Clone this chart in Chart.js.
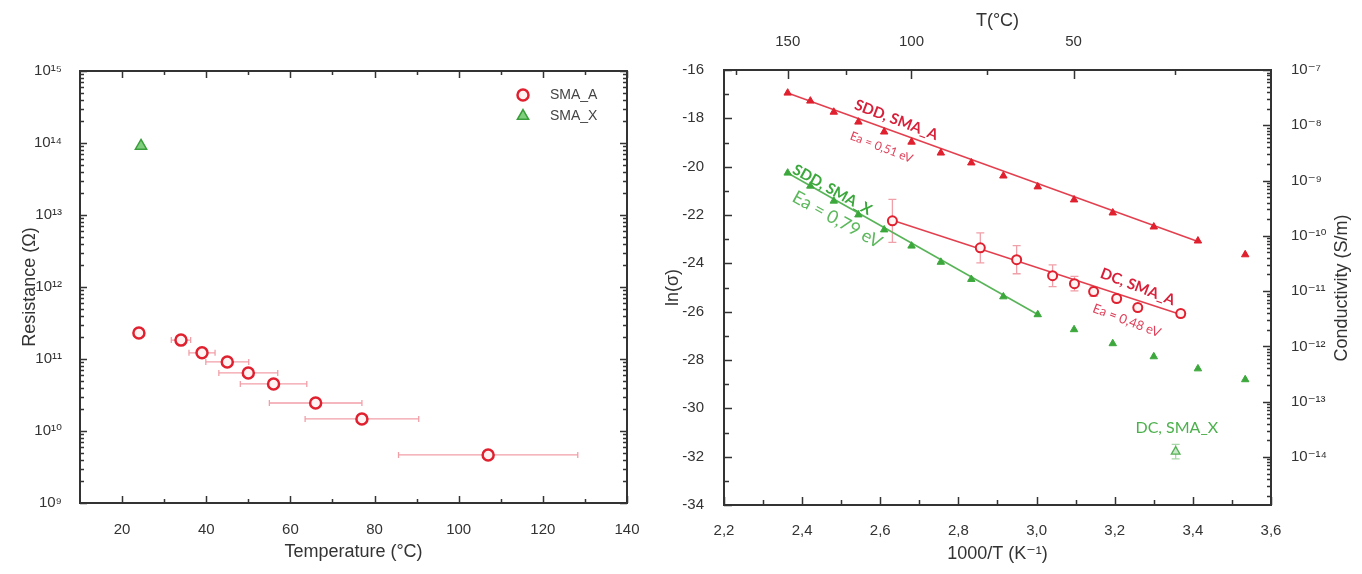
<!DOCTYPE html>
<html><head><meta charset="utf-8">
<script src="https://cdn.jsdelivr.net/npm/chart.js@4.4.0/dist/chart.umd.min.js"></script>
<style>
html,body{margin:0;padding:0;background:#fff;width:1362px;height:574px;overflow:hidden}
#c1{position:absolute;left:0;top:0}
#c2{position:absolute;left:640px;top:0}
</style></head><body>
<canvas id="c1" width="640" height="574"></canvas>
<canvas id="c2" width="722" height="574"></canvas>
<script>
// ---------- Left panel: Resistance vs Temperature ----------
const tempA = [24, 34, 39, 45, 50, 56, 66, 77, 107];
const resistanceA = [2.3e11, 1.83e11, 1.22e11, 9.1e10, 6.4e10, 4.5e10, 2.45e10, 1.47e10, 4.65e9];
const tempErrA = [0, 2.3, 3.1, 5.1, 7.0, 7.9, 11.0, 13.5, 21.3];
const tempX = [24.5];
const resistanceX = [9.1e13];
const tempTicks = [20, 40, 60, 80, 100, 120, 140];
const tempMinorTicks = [30, 50, 70, 90, 110, 130];
const resistanceTicks = [1e9, 1e10, 1e11, 1e12, 1e13, 1e14, 1e15];

// ---------- Right panel: Arrhenius plot ----------
const invT_SDD = [2.363, 2.421, 2.481, 2.544, 2.610, 2.680, 2.755, 2.833, 2.915, 3.003, 3.096, 3.195, 3.300, 3.413, 3.534];
const lnSigma_SDD_A = [-16.95, -17.28, -17.74, -18.15, -18.56, -18.98, -19.43, -19.84, -20.38, -20.83, -21.37, -21.91, -22.49, -23.07, -23.64];
const lnSigma_SDD_X = [-20.26, -20.80, -21.42, -21.99, -22.61, -23.28, -23.95, -24.66, -25.38, -26.12, -26.74, -27.32, -27.86, -28.36, -28.81];
const fitSDD_A_x = [2.363, 3.413];
const fitSDD_A_y = [-16.95, -23.10];
const fitSDD_X_x = [2.363, 3.003];
const fitSDD_X_y = [-20.26, -26.12];

const invT_DC_A = [2.631, 2.856, 2.949, 3.041, 3.097, 3.146, 3.205, 3.259, 3.369];
const lnSigma_DC_A = [-22.24, -23.36, -23.85, -24.51, -24.84, -25.17, -25.46, -25.83, -26.08];
const lnErr_DC_A = [0.89, 0.62, 0.58, 0.45, 0.30, 0.20, 0.15, 0.15, 0.15];
const fitDC_A_x = [2.631, 3.369];
const fitDC_A_y = [-22.22, -26.12];

const invT_DC_X = [3.356];
const lnSigma_DC_X = [-31.79];
const lnErr_DC_X = [0.30];

const invTTicks = [2.2, 2.4, 2.6, 2.8, 3.0, 3.2, 3.4, 3.6];
const invTMinorTicks = [2.3, 2.5, 2.7, 2.9, 3.1, 3.3, 3.5];
const lnTicks = [-34, -32, -30, -28, -26, -24, -22, -20, -18, -16];
const lnMinorTicks = [-33, -31, -29, -27, -25, -23, -21, -19, -17];
const topTempLabels = [150, 100, 50];
const topTempMinor = [175, 125, 75, 25];
const conductivityTicks = [1e-14, 1e-13, 1e-12, 1e-11, 1e-10, 1e-9, 1e-8, 1e-7];

// ---------- helpers ----------
const SUP = {'0':'⁰','1':'¹','2':'²','3':'³','4':'⁴','5':'⁵','6':'⁶','7':'⁷','8':'⁸','9':'⁹','-':'⁻'};
const sup = s => String(s).split('').map(c => SUP[c] || c).join('');
const powLabel = v => '10' + sup(Math.round(Math.log10(v)));
const toC = T => 1000 / (T + 273.15);
function logMinors(min, max) {
  const out = [];
  for (let e = Math.floor(Math.log10(min)); e <= Math.ceil(Math.log10(max)); e++) {
    for (let k = 2; k <= 9; k++) { const v = k * Math.pow(10, e); if (v >= min && v <= max) out.push(v); }
  }
  return out;
}
const pts = (xs, ys) => xs.map((x, i) => ({x, y: ys[i]}));
const noPad = s => { s.paddingLeft = 0; s.paddingRight = 0; s.paddingTop = 0; s.paddingBottom = 0; };

const FONT = "'Liberation Sans', Arial, 'DejaVu Sans', sans-serif";
const tickFont = {family: FONT, size: 15};
const titleFont = {family: FONT, size: 18};
const TXT = '#333';
const RED = '#e0202e', GREEN = '#3ca83c';

const decor = {
  id: 'decor',
  beforeDatasetsDraw(chart, args, opts) {
    const ctx = chart.ctx;
    (opts.errorBars || []).forEach(eb => {
      const xs = chart.scales[eb.xAxis || 'x'], ys = chart.scales[eb.yAxis || 'y'];
      ctx.save(); ctx.strokeStyle = eb.color; ctx.lineWidth = eb.width || 1.2;
      eb.x.forEach((xv, i) => {
        const e = eb.err[i]; if (!e) return;
        const px = xs.getPixelForValue(xv), py = ys.getPixelForValue(eb.y[i]);
        ctx.beginPath();
        if (eb.dir === 'x') {
          const a = xs.getPixelForValue(xv - e), b = xs.getPixelForValue(xv + e);
          ctx.moveTo(a, py); ctx.lineTo(b, py);
          ctx.moveTo(a, py - eb.cap); ctx.lineTo(a, py + eb.cap);
          ctx.moveTo(b, py - eb.cap); ctx.lineTo(b, py + eb.cap);
        } else {
          const a = ys.getPixelForValue(eb.y[i] - e), b = ys.getPixelForValue(eb.y[i] + e);
          ctx.moveTo(px, a); ctx.lineTo(px, b);
          ctx.moveTo(px - eb.cap, a); ctx.lineTo(px + eb.cap, a);
          ctx.moveTo(px - eb.cap, b); ctx.lineTo(px + eb.cap, b);
        }
        ctx.stroke();
      });
      ctx.restore();
    });
  },
  afterDraw(chart, args, opts) {
    const ctx = chart.ctx, ca = chart.chartArea;
    ctx.save();
    ctx.strokeStyle = '#333'; ctx.lineWidth = 2;
    ctx.strokeRect(ca.left, ca.top, ca.right - ca.left, ca.bottom - ca.top);
    ctx.lineWidth = 1.5;
    (opts.ticks || []).forEach(t => {
      const s = chart.scales[t.scale];
      const draw = (vals, len) => vals.forEach(v => {
        const p = Math.round(s.getPixelForValue(v)) + 0.5;
        ctx.beginPath();
        if (t.side === 'bottom') { ctx.moveTo(p, ca.bottom); ctx.lineTo(p, ca.bottom - len); }
        else if (t.side === 'top') { ctx.moveTo(p, ca.top); ctx.lineTo(p, ca.top + len); }
        else if (t.side === 'left') { ctx.moveTo(ca.left, p); ctx.lineTo(ca.left + len, p); }
        else { ctx.moveTo(ca.right, p); ctx.lineTo(ca.right - len, p); }
        ctx.stroke();
      });
      draw(t.major, t.majorLen); draw(t.minor || [], t.minorLen);
    });
    (opts.annotations || []).forEach(a => {
      const xs = chart.scales[a.xAxis || 'x'], ys = chart.scales[a.yAxis || 'y'];
      ctx.save();
      ctx.translate(xs.getPixelForValue(a.x), ys.getPixelForValue(a.y));
      ctx.rotate(a.angle * Math.PI / 180);
      ctx.font = a.font; ctx.fillStyle = a.color;
      ctx.textAlign = 'center'; ctx.textBaseline = 'middle';
      ctx.fillText(a.text, 0, 0);
      ctx.restore();
    });
    (opts.sideTitles || []).forEach(t => {
      ctx.save();
      ctx.translate(t.x, t.y); ctx.rotate(-Math.PI / 2);
      ctx.font = t.font; ctx.fillStyle = t.color; ctx.textAlign = 'center'; ctx.textBaseline = 'middle';
      ctx.fillText(t.text, 0, 0);
      ctx.restore();
    });
    if (opts.legend) {
      const L = opts.legend;
      chart.data.datasets.forEach((ds, i) => {
        const x = ca.right - L.right, y = ca.top + L.top + i * L.spacing;
        ctx.save();
        ctx.fillStyle = ds.pointBackgroundColor; ctx.strokeStyle = ds.pointBorderColor; ctx.lineWidth = ds.pointBorderWidth;
        Chart.helpers.drawPoint(ctx, {pointStyle: ds.pointStyle, radius: ds.pointRadius, borderWidth: ds.pointBorderWidth, rotation: 0}, x, y);
        ctx.fillStyle = '#444'; ctx.font = `14px ${FONT}`; ctx.textAlign = 'left'; ctx.textBaseline = 'middle';
        ctx.fillText(ds.label, x + L.textGap, y);
        ctx.restore();
      });
    }
    ctx.restore();
  }
};
Chart.register(decor);

// ---------- Left chart ----------
new Chart(document.getElementById('c1'), {
  type: 'scatter',
  data: {datasets: [
    {label: 'SMA_A', data: pts(tempA, resistanceA), pointStyle: 'circle', pointRadius: 5.5, pointBorderWidth: 2.5,
     pointBorderColor: RED, pointBackgroundColor: '#fff2f2', borderColor: RED, backgroundColor: '#fff2f2'},
    {label: 'SMA_X', data: pts(tempX, resistanceX), pointStyle: 'triangle', pointRadius: 6.5, pointBorderWidth: 1.5,
     pointBorderColor: '#3a9e3a', pointBackgroundColor: '#7fcf7f', borderColor: '#3a9e3a', backgroundColor: '#7fcf7f'}
  ]},
  options: {
    responsive: false, animation: false, events: [],
    layout: {padding: {top: 71, right: 13, left: 0, bottom: 0}},
    scales: {
      x: {type: 'linear', min: 10, max: 140,
          afterBuildTicks: s => { s.ticks = tempTicks.map(v => ({value: v})); },
          afterFit: s => { s.height = 71; noPad(s); },
          grid: {display: false}, border: {display: false},
          ticks: {padding: 10, font: tickFont, color: TXT},
          title: {display: true, text: 'Temperature (°C)', font: titleFont, color: TXT, padding: {top: 0, bottom: 11}}},
      y: {type: 'logarithmic', min: 1e9, max: 1e15,
          afterBuildTicks: s => { s.ticks = resistanceTicks.map(v => ({value: v})); },
          afterFit: s => { s.width = 80; noPad(s); },
          grid: {display: false}, border: {display: false},
          ticks: {padding: 10, font: tickFont, color: TXT, callback: v => powLabel(v)},
          title: {display: true, text: 'Resistance (Ω)', font: titleFont, color: TXT, padding: {top: 19, bottom: 0}}}
    },
    plugins: {
      legend: {display: false}, tooltip: {enabled: false},
      decor: {
        errorBars: [{x: tempA, y: resistanceA, err: tempErrA, dir: 'x', cap: 3, color: '#f2a0a8', width: 1.3}],
        ticks: [
          {scale: 'x', side: 'bottom', major: tempTicks, minor: tempMinorTicks, majorLen: 7, minorLen: 4},
          {scale: 'x', side: 'top', major: tempTicks, minor: tempMinorTicks, majorLen: 7, minorLen: 4},
          {scale: 'y', side: 'left', major: resistanceTicks, minor: logMinors(1e9, 1e15), majorLen: 7, minorLen: 4},
          {scale: 'y', side: 'right', major: resistanceTicks, minor: logMinors(1e9, 1e15), majorLen: 7, minorLen: 4}
        ],
        legend: {right: 104, top: 24, spacing: 21, textGap: 27}
      }
    }
  }
});

// ---------- Right chart ----------
new Chart(document.getElementById('c2'), {
  type: 'scatter',
  data: {datasets: [
    {label: 'DC, SMA_A', data: pts(invT_DC_A, lnSigma_DC_A), pointStyle: 'circle', pointRadius: 4.5, pointBorderWidth: 2,
     pointBorderColor: RED, pointBackgroundColor: '#fff4f4'},
    {label: 'DC, SMA_X', data: pts(invT_DC_X, lnSigma_DC_X), pointStyle: 'triangle', pointRadius: 5, pointBorderWidth: 1.3,
     pointBorderColor: '#55b055', pointBackgroundColor: '#c8eac8'},
    {label: 'SDD, SMA_A', data: pts(invT_SDD, lnSigma_SDD_A), pointStyle: 'triangle', pointRadius: 4.3, pointBorderWidth: 1,
     pointBorderColor: RED, pointBackgroundColor: RED},
    {label: 'SDD, SMA_X', data: pts(invT_SDD, lnSigma_SDD_X), pointStyle: 'triangle', pointRadius: 4.3, pointBorderWidth: 1,
     pointBorderColor: GREEN, pointBackgroundColor: GREEN},
    {label: 'fit SDD A', data: pts(fitSDD_A_x, fitSDD_A_y), showLine: true, pointRadius: 0, borderColor: '#e3404f', borderWidth: 1.6},
    {label: 'fit SDD X', data: pts(fitSDD_X_x, fitSDD_X_y), showLine: true, pointRadius: 0, borderColor: '#58b458', borderWidth: 1.6},
    {label: 'fit DC A', data: pts(fitDC_A_x, fitDC_A_y), showLine: true, pointRadius: 0, borderColor: '#e3404f', borderWidth: 1.6}
  ]},
  options: {
    responsive: false, animation: false, events: [],
    layout: {padding: 0},
    scales: {
      x: {type: 'linear', position: 'bottom', min: 2.2, max: 3.6,
          afterBuildTicks: s => { s.ticks = invTTicks.map(v => ({value: v})); },
          afterFit: s => { s.height = 69; noPad(s); },
          grid: {display: false}, border: {display: false},
          ticks: {padding: 9, font: tickFont, color: TXT, callback: v => v.toFixed(1).replace('.', ',')},
          title: {display: true, text: '1000/T (K⁻¹)', font: titleFont, color: TXT, padding: {top: 0, bottom: 9}}},
      xT: {type: 'linear', position: 'top', min: 2.2, max: 3.6,
          afterBuildTicks: s => { s.ticks = topTempLabels.map(T => ({value: toC(T)})); },
          afterFit: s => { s.height = 70; noPad(s); },
          grid: {display: false}, border: {display: false},
          ticks: {padding: 11, font: tickFont, color: TXT, callback: v => String(Math.round(1000 / v - 273.15))},
          title: {display: true, text: 'T(°C)', font: titleFont, color: TXT, padding: {top: 10, bottom: 0}}},
      y: {type: 'linear', position: 'left', min: -34, max: -16,
          afterBuildTicks: s => { s.ticks = lnTicks.map(v => ({value: v})); },
          afterFit: s => { s.width = 84; noPad(s); },
          grid: {display: false}, border: {display: false},
          ticks: {padding: 12, font: tickFont, color: TXT, callback: v => String(v)},
          title: {display: true, text: 'ln(σ)', font: titleFont, color: TXT, padding: {top: 22, bottom: 0}}},
      yC: {type: 'logarithmic', position: 'right', min: 1.35e-15, max: 1e-7,
          afterBuildTicks: s => { s.ticks = conductivityTicks.map(v => ({value: v})); },
          afterFit: s => { s.width = 91; noPad(s); },
          grid: {display: false}, border: {display: false},
          ticks: {padding: 12, font: tickFont, color: TXT, callback: v => powLabel(v)}}
    },
    plugins: {
      legend: {display: false}, tooltip: {enabled: false},
      decor: {
        errorBars: [
          {x: invT_DC_A, y: lnSigma_DC_A, err: lnErr_DC_A, dir: 'y', cap: 4, color: '#f0a0a8', width: 1.3},
          {x: invT_DC_X, y: lnSigma_DC_X, err: lnErr_DC_X, dir: 'y', cap: 4, color: '#a8d8a8', width: 1.3}
        ],
        ticks: [
          {scale: 'x', side: 'bottom', major: invTTicks, minor: invTMinorTicks, majorLen: 8, minorLen: 5},
          {scale: 'xT', side: 'top', major: topTempLabels.map(toC), minor: topTempMinor.map(toC), majorLen: 9, minorLen: 5},
          {scale: 'y', side: 'left', major: lnTicks, minor: lnMinorTicks, majorLen: 8, minorLen: 5},
          {scale: 'yC', side: 'right', major: conductivityTicks, minor: logMinors(1.35e-15, 1e-7), majorLen: 8, minorLen: 4}
        ],
        annotations: [
          {text: 'SDD, SMA_A', x: 2.641, y: -18.07, angle: 21, font: `bold 15px Lato, 'Open Sans', sans-serif`, color: '#d8203a'},
          {text: 'Ea = 0,51 eV', x: 2.603, y: -19.2, angle: 21, font: `12px Lato, 'Open Sans', sans-serif`, color: '#e0405a'},
          {text: 'SDD, SMA_X', x: 2.477, y: -20.96, angle: 29, font: `bold 15px Lato, 'Open Sans', sans-serif`, color: '#3aa83a'},
          {text: 'Ea = 0,79 eV', x: 2.49, y: -22.2, angle: 29, font: `18px Lato, 'Open Sans', sans-serif`, color: '#5cb85c'},
          {text: 'DC, SMA_A', x: 3.259, y: -24.97, angle: 21, font: `bold 15px Lato, 'Open Sans', sans-serif`, color: '#d8203a'},
          {text: 'Ea = 0,48 eV', x: 3.231, y: -26.37, angle: 21, font: `13px Lato, 'Open Sans', sans-serif`, color: '#e0405a'},
          {text: 'DC, SMA_X', x: 3.359, y: -30.79, angle: 0, font: `16px Lato, 'Open Sans', sans-serif`, color: '#4cb04c'}
        ],
        sideTitles: [{text: 'Conductivity (S/m)', x: 702, y: 288, font: `18px ${FONT}`, color: TXT}]
      }
    }
  }
});
</script>
</body></html>
